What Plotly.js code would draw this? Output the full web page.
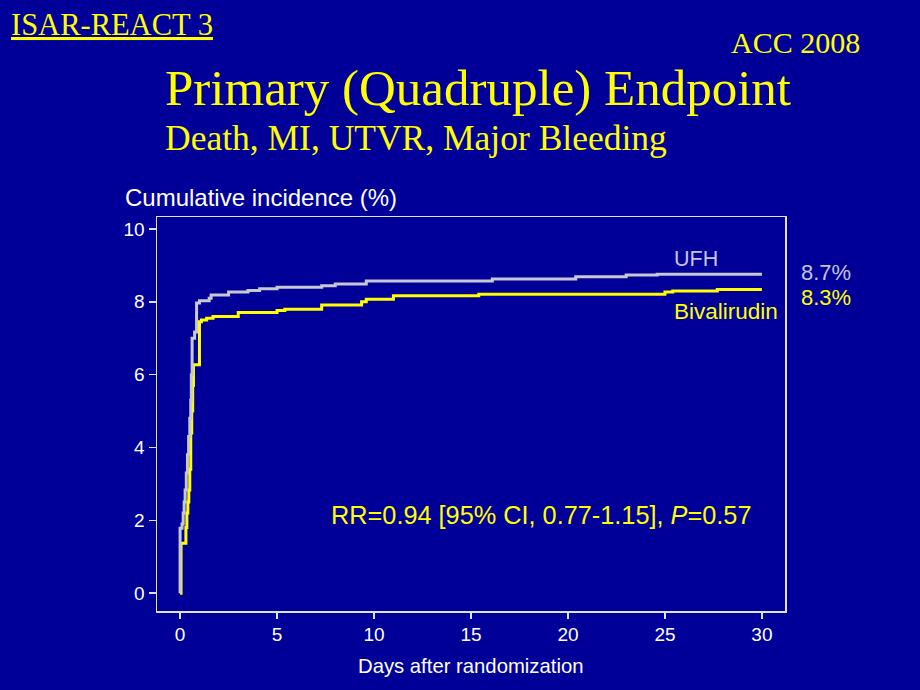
<!DOCTYPE html>
<html>
<head>
<meta charset="utf-8">
<script src="https://cdn.plot.ly/plotly-3.0.1.min.js"></script>
<style>
  html, body { margin: 0; padding: 0; background: #000099; }
  #chart { width: 920px; height: 690px; }
</style>
</head>
<body>
<div id="chart"></div>
<script>
// ---- Data ----
const ufhDays = [0, 0, 0.1, 0.16, 0.21, 0.26, 0.32, 0.38, 0.44, 0.5, 0.55, 0.58, 0.62, 0.75, 0.85, 1.0, 1.5, 1.6, 2.5, 3.5, 4.1, 5.0, 7.3, 8.0, 9.6, 16.1, 20.4, 23.0, 24.6, 30];
const ufhPct  = [0, 1.78, 1.9, 2.2, 2.5, 2.83, 3.3, 3.8, 4.3, 4.8, 5.3, 6.0, 7.0, 7.17, 7.97, 8.03, 8.1, 8.19, 8.27, 8.31, 8.36, 8.4, 8.44, 8.49, 8.57, 8.63, 8.69, 8.74, 8.76, 8.76];

const bivDays = [0, 0.05, 0.3, 0.35, 0.4, 0.45, 0.5, 0.55, 0.6, 0.65, 0.69, 1.0, 1.1, 1.37, 1.7, 3.0, 5.0, 5.4, 7.3, 9.36, 9.6, 11.0, 15.4, 25.0, 25.4, 27.7, 30];
const bivPct  = [0, 1.37, 1.8, 2.2, 2.5, 2.83, 3.4, 4.4, 5.0, 5.7, 6.27, 7.45, 7.5, 7.55, 7.6, 7.71, 7.76, 7.8, 7.91, 8.0, 8.07, 8.17, 8.21, 8.27, 8.3, 8.34, 8.34];

const xTicks = [0, 5, 10, 15, 20, 25, 30];
const yTicks = [0, 2, 4, 6, 8, 10];

const seriesNames = ['Bivalirudin', 'UFH'];
const finalLabels = ['8.3%', '8.7%'];
const rrText = 'RR=0.94 [95% CI, 0.77-1.15], <i>P</i>=0.57';

// ---- Styling ----
const BG = '#000099';
const YEL = '#ffff00';
const GRAY = '#c4c4dc';
const LINEGRAY = '#c8c8d2';
const AXC = '#e0e0e8';
const SANS = '"Liberation Sans", Arial, sans-serif';
const SERIF = '"Liberation Serif", "Times New Roman", serif';

// plot area in pixels
const L = 157, R = 785, T = 217, B = 611;
const px = x => (x - L) / (R - L);
const py = y => (B - y) / (B - T);

function ann(text, x, y, xanchor, size, color, family, extra) {
  return Object.assign({
    text: text, xref: 'paper', yref: 'paper', x: px(x), y: py(y),
    xanchor: xanchor, yanchor: 'middle', showarrow: false,
    font: {family: family, size: size, color: color}
  }, extra || {});
}

const traces = [
  {x: bivDays, y: bivPct, name: seriesNames[0], type: 'scatter', mode: 'lines',
   line: {shape: 'hv', color: YEL, width: 3}, hoverinfo: 'skip'},
  {x: ufhDays, y: ufhPct, name: seriesNames[1], type: 'scatter', mode: 'lines',
   line: {shape: 'hv', color: LINEGRAY, width: 3}, hoverinfo: 'skip'}
];

const layout = {
  width: 920, height: 690,
  paper_bgcolor: BG, plot_bgcolor: BG,
  margin: {l: L, r: 920 - R, t: T, b: 690 - B, pad: 0},
  showlegend: false,
  xaxis: {
    range: [-1.19, 31.19], tickvals: xTicks, ticktext: xTicks.map(String),
    showline: true, mirror: true, linecolor: AXC, linewidth: 1.5,
    ticks: 'outside', ticklen: 6, tickwidth: 1.5, tickcolor: AXC,
    showgrid: false, zeroline: false,
    tickfont: {family: SANS, size: 19, color: '#ffffff'}
  },
  yaxis: {
    range: [-0.49, 10.33], tickvals: yTicks, ticktext: yTicks.map(String),
    showline: true, mirror: true, linecolor: AXC, linewidth: 1.5,
    ticks: 'outside', ticklen: 7, tickwidth: 1.5, tickcolor: AXC,
    showgrid: false, zeroline: false,
    tickfont: {family: SANS, size: 19, color: '#ffffff'}
  },
  annotations: [
    ann('ISAR-REACT 3', 9, 25, 'left', 30.5, YEL, SERIF),
    ann('ACC 2008', 862, 43, 'right', 30, YEL, SERIF),
    ann('Primary (Quadruple) Endpoint', 163, 88, 'left', 51, YEL, SERIF),
    ann('Death, MI, UTVR, Major Bleeding', 163, 138, 'left', 35.5, YEL, SERIF),
    ann('Cumulative incidence (%)', 123, 198, 'left', 24, '#ffffff', SANS),
    ann('Days after randomization', 470, 666, 'center', 20.3, '#ffffff', SANS),
    ann(seriesNames[1], 672, 259, 'left', 21.5, GRAY, SANS),
    ann(seriesNames[0], 672, 311, 'left', 22.5, YEL, SANS),
    ann(finalLabels[1], 799, 272, 'left', 22, GRAY, SANS),
    ann(finalLabels[0], 799, 297, 'left', 22, YEL, SANS),
    ann(rrText, 541, 515, 'center', 25.3, YEL, SANS)
  ]
};
layout.annotations[0].font.lineposition = 'under';

Plotly.newPlot('chart', traces, layout, {staticPlot: true, displayModeBar: false});
</script>
</body>
</html>
